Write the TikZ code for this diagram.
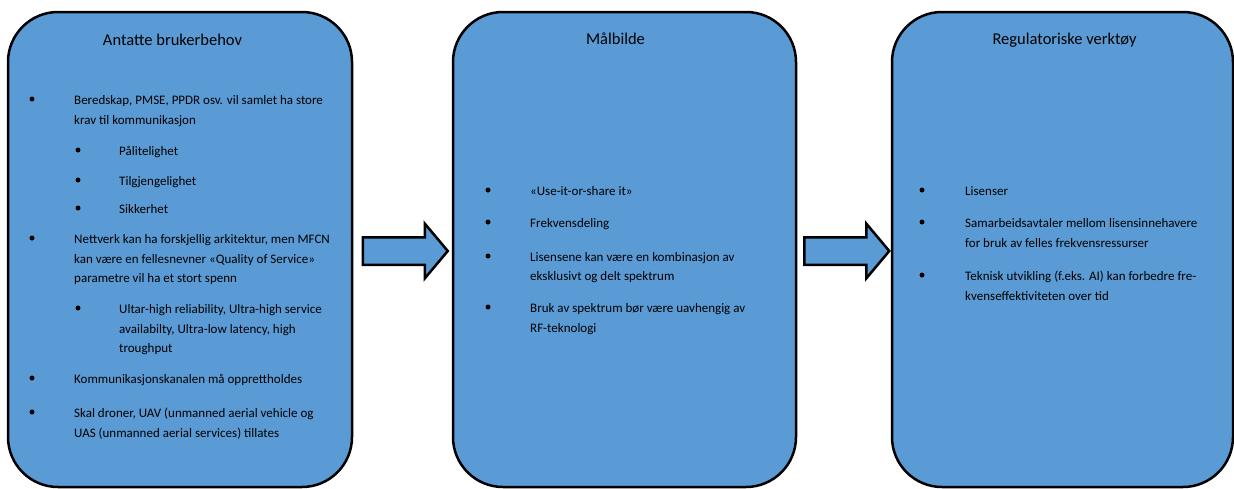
\documentclass[tikz,border=0pt]{standalone}
\usepackage{fontspec}
\setmainfont{Carlito}
\usetikzlibrary{shapes.arrows}
\usetikzlibrary{calc}
\definecolor{boxblue}{RGB}{91,155,213}

\begin{document}
\begin{tikzpicture}[x=1pt, y=-1pt,
    panel/.style={draw=black, line width=2.5pt, fill=boxblue, rounded corners=50pt, inner sep=0pt},
    headtxt/.style={anchor=base, inner sep=0pt, font=\fontsize{16.5}{20}\selectfont},
    txt/.style={anchor=base west, inner sep=0pt, font=\fontsize{13}{20}\selectfont},
    bulletdot/.style={circle, fill=black, inner sep=0pt, minimum size=5pt},
    blockarrow/.style={single arrow, draw=black, line width=2.5pt, fill=boxblue,
        inner xsep=0pt, inner ysep=12.5pt, single arrow head extend=13.5pt,
        single arrow tip angle=100, minimum height=85pt}]
    \useasboundingbox (0,0) rectangle (1234,488);
    % the three panels
    \node[panel, minimum width=344pt, minimum height=475pt] (need) at (180, 249.5) {};
    \node[panel, minimum width=343pt, minimum height=475pt] (goal) at (624.5, 249.5) {};
    \node[panel, minimum width=341pt, minimum height=475pt] (tools) at (1062.5, 249.5) {};
    \node[blockarrow] (arr1) at ($(need.east)!0.5!(goal.west) + (-3, 1.5)$) {};
    \node[blockarrow] (arr2) at ($(goal.east)!0.5!(tools.west) + (-3, 1.5)$) {};
    % Antatte brukerbehov
    \node[headtxt] (needhead) at (172.5, 45) {Antatte brukerbehov};
    \node[bulletdot] (nd1) at (32, 99) {};
    \node[txt] (n1a) at (74, 104) {Beredskap, PMSE, PPDR osv. vil samlet ha store};
    \node[txt] (n1b) at (74, 124) {krav til kommunikasjon};
    \node[bulletdot] (nd11) at (78, 150) {};
    \node[txt] (n11) at (119, 155) {Pålitelighet};
    \node[bulletdot] (nd12) at (78, 180) {};
    \node[txt] (n12) at (119, 185) {Tilgjengelighet};
    \node[bulletdot] (nd13) at (78, 208) {};
    \node[txt] (n13) at (119, 213) {Sikkerhet};
    \node[bulletdot] (nd2) at (32, 238) {};
    \node[txt] (n2a) at (74, 243) {Nettverk kan ha forskjellig arkitektur, men MFCN};
    \node[txt] (n2b) at (74, 263) {kan være en fellesnevner «Quality of Service»};
    \node[txt] (n2c) at (74, 282) {parametre vil ha et stort spenn};
    \node[bulletdot] (nd21) at (78, 308) {};
    \node[txt] (n21a) at (119, 313) {Ultar-high reliability, Ultra-high service};
    \node[txt] (n21b) at (119, 333) {availabilty, Ultra-low latency, high};
    \node[txt] (n21c) at (119, 352) {troughput};
    \node[bulletdot] (nd3) at (32, 378) {};
    \node[txt] (n3) at (74, 383) {Kommunikasjonskanalen må opprettholdes};
    \node[bulletdot] (nd4) at (32, 412) {};
    \node[txt] (n4a) at (74, 417) {Skal droner, UAV (unmanned aerial vehicle og};
    \node[txt] (n4b) at (74, 437) {UAS (unmanned aerial services) tillates};
    % Målbilde
    \node[headtxt] (goalhead) at (615.5, 44) {Målbilde};
    \node[bulletdot] (gd1) at (488, 190) {};
    \node[txt] (g1) at (530, 195) {«Use-it-or-share it»};
    \node[bulletdot] (gd2) at (488, 222) {};
    \node[txt] (g2) at (530, 227) {Frekvensdeling};
    \node[bulletdot] (gd3) at (488, 256) {};
    \node[txt] (g3a) at (530, 261) {Lisensene kan være en kombinasjon av};
    \node[txt] (g3b) at (530, 280) {eksklusivt og delt spektrum};
    \node[bulletdot] (gd4) at (488, 307) {};
    \node[txt] (g4a) at (530, 312) {Bruk av spektrum bør være uavhengig av};
    \node[txt] (g4b) at (530, 332) {RF-teknologi};
    % Regulatoriske verktøy
    \node[headtxt] (toolshead) at (1064.5, 44) {Regulatoriske verktøy};
    \node[bulletdot] (td1) at (922, 190) {};
    \node[txt] (t1) at (965, 195) {Lisenser};
    \node[bulletdot] (td2) at (922, 222) {};
    \node[txt] (t2a) at (965, 227) {Samarbeidsavtaler mellom lisensinnehavere};
    \node[txt] (t2b) at (965, 247) {for bruk av felles frekvensressurser};
    \node[bulletdot] (td3) at (922, 275) {};
    \node[txt] (t3a) at (965, 280) {Teknisk utvikling (f.eks. AI) kan forbedre fre-};
    \node[txt] (t3b) at (965, 300) {kvenseffektiviteten over tid};
\end{tikzpicture}
\end{document}
